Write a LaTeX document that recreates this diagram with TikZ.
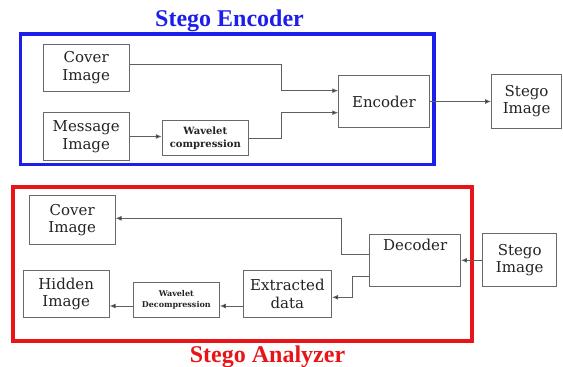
\documentclass[tikz,border=0pt]{standalone}
\usepackage{fontspec}
\setmainfont{DejaVu Serif}
\newfontfamily\titlefont{Liberation Serif}
\usetikzlibrary{arrows.meta}
\definecolor{encblue}{RGB}{30,30,235}
\definecolor{anared}{RGB}{232,20,24}
\definecolor{boxgray}{RGB}{105,105,105}
\definecolor{linegray}{RGB}{95,95,95}
\definecolor{txt}{RGB}{35,35,35}
\tikzset{
  blk/.style={draw=boxgray, line width=1pt, inner sep=0pt, align=center, text=txt,
    font=\fontsize{15}{17.5}\selectfont},
  wav/.style={blk, font=\fontsize{10}{13}\selectfont\bfseries},
  wavs/.style={blk, font=\fontsize{8}{11}\selectfont\bfseries},
  conn/.style={draw=linegray, line width=1pt, -{Latex[length=6pt,width=5pt,fill=black]}},
  frame/.style={line width=3.8pt},
  ttl/.style={font=\titlefont\fontsize{24}{24}\selectfont\bfseries, inner sep=0pt, anchor=base}
}
\begin{document}
\begin{tikzpicture}[x=1pt,y=-1pt]
\useasboundingbox (0,0) rectangle (563,367);

% frames
\draw[frame, draw=encblue] (20.5,34) rectangle (434,164.5);
\draw[frame, draw=anared] (13,187) rectangle (472,341);
\node[ttl, text=encblue] (t1) at (229.5,26) {Stego Encoder};
\node[ttl, text=anared] (t2) at (267.5,362.5) {Stego Analyzer};

% encoder side
\node[blk, minimum width=85.7pt, minimum height=46.7pt] (cov1) at (86.2,67.7) {Cover\\Image};
\node[blk, minimum width=85.7pt, minimum height=48.4pt] (msg) at (86.2,136.5) {Message\\Image};
\node[wav, minimum width=86pt, minimum height=35pt] (wav1) at (205.3,138.2) {Wavelet\\compression};
\node[blk, minimum width=90.3pt, minimum height=52.4pt] (enc) at (383.9,101.5) {Encoder};
\node[blk, minimum width=70pt, minimum height=54pt] (st1) at (526.6,101.3) {Stego\\Image};

\coordinate (j1) at (281,0);
\draw[conn] ([yshift=3.3pt]cov1.east) -- ([yshift=3.3pt]cov1.east -| j1) |- ([yshift=10.8pt]enc.west);
\draw[conn] (msg.east) -- (msg.east -| wav1.west);
\draw[conn] (wav1.east) -- (wav1.east -| j1) |- ([yshift=-11.2pt]enc.west);
\draw[conn] (enc.east) -- (enc.east -| st1.west);

% analyzer side
\node[blk, minimum width=85.7pt, minimum height=48.6pt] (cov2) at (72.2,220) {Cover\\Image};
\node[blk, minimum width=85.7pt, minimum height=46.6pt] (hid) at (66.2,294) {Hidden\\Image};
\node[wavs, minimum width=86pt, minimum height=35pt] (wav2) at (176.3,299.8) {Wavelet\\Decompression};
\node[blk, minimum width=88.2pt, minimum height=46.6pt] (ext) at (287.4,294) {Extracted\\data};
\node[blk, minimum width=90.5pt, minimum height=51.7pt,
  label={[anchor=north, inner sep=0pt, text=txt, font=\fontsize{15}{17.5}\selectfont, yshift=-5pt]north:Decoder}] (dec) at (415.2,260.2) {};
\node[blk, minimum width=74pt, minimum height=52.7pt] (st2) at (519.7,260.3) {Stego\\Image};

\coordinate (j2) at (341.7,0);
\coordinate (j4) at (352.5,0);
\coordinate (j3) at (0,306);
\draw[conn] (st2.west) -- (st2.west -| dec.east);
\draw[conn] ([yshift=5.5pt]dec.west) -- ([yshift=5.5pt]dec.west -| j2) |- ([yshift=1.7pt]cov2.east);
\draw[conn] ([yshift=-16.5pt]dec.west) -- ([yshift=-16.5pt]dec.west -| j4) |- ([yshift=-3.3pt]ext.east);
\draw[conn] (ext.west |- j3) -- (wav2.east |- j3);
\draw[conn] (wav2.west |- j3) -- (hid.east |- j3);
\end{tikzpicture}
\end{document}
